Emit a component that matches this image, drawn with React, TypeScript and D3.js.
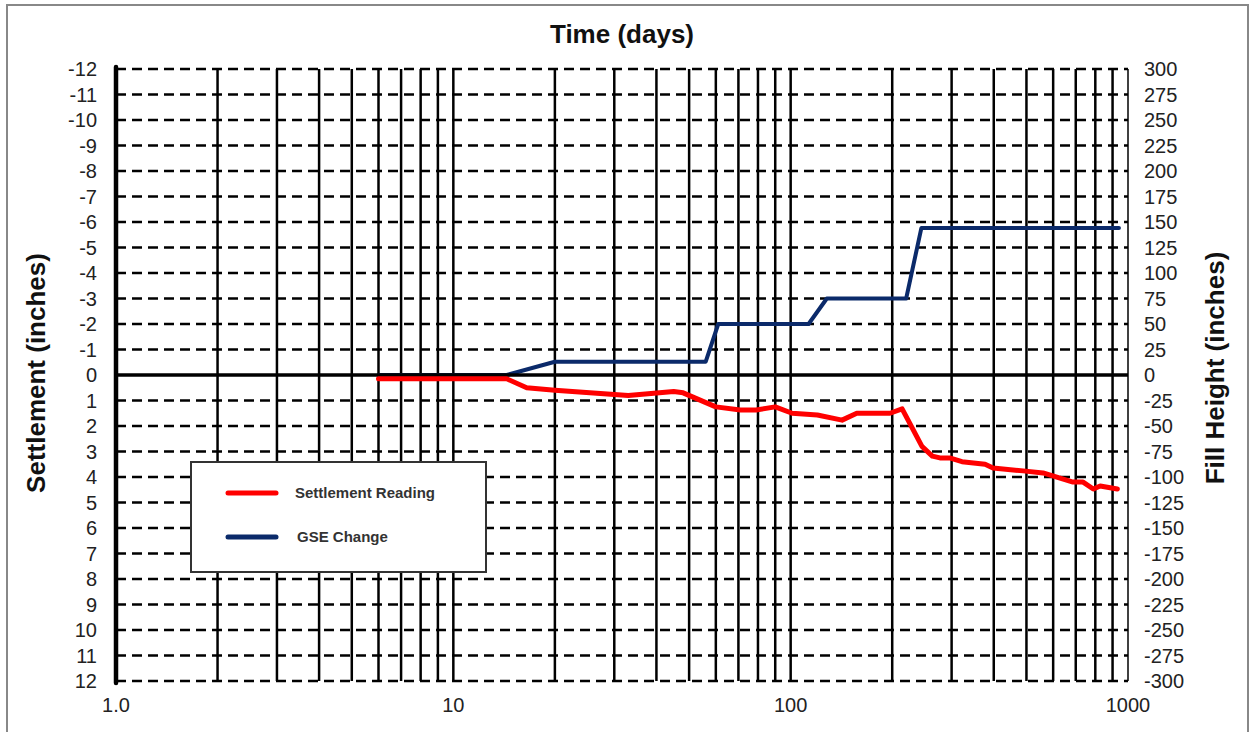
import React, { useEffect, useRef } from 'react';
import * as d3 from 'd3';

// settlement plate readings (inches, positive = down)
const settlementDays = [6, 14.4, 16.5, 20, 33, 45, 48, 60, 71, 79, 90, 101, 120, 142, 157, 197, 214, 245, 263, 277, 296, 322, 377, 398, 489, 560, 687, 736, 789, 827, 930];
const settlementValues = [0.15, 0.15, 0.5, 0.6, 0.8, 0.65, 0.7, 1.25, 1.37, 1.37, 1.25, 1.5, 1.57, 1.77, 1.5, 1.5, 1.33, 2.8, 3.18, 3.25, 3.25, 3.4, 3.5, 3.65, 3.76, 3.84, 4.2, 4.2, 4.47, 4.35, 4.47];

// ground surface elevation change (fill height, inches)
const gseDays = [6, 14.4, 20, 56, 61, 113, 128, 220, 244, 940];
const gseValues = [0, 0, 13, 13, 50, 50, 75, 75, 144, 144];

const leftTicks = d3.range(-12, 13, 1);
const rightTicks = d3.range(300, -301, -25);
const xLabels = [1, 10, 100, 1000];
const xLabelText = ['1.0', '10', '100', '1000'];
const legendItems = ['Settlement Reading', 'GSE Change'];

const RED = '#ff0000';
const NAVY = '#0b2a6a';

export default function App() {
  const ref = useRef<SVGSVGElement>(null);

  useEffect(() => {
    const width = 1251,
          height = 732;
    const left = 116, right = 1128, top = 69, bottom = 681;

    const svg = d3.select(ref.current);
    svg.selectAll('*').remove();
    svg.attr('width', width).attr('height', height);

    svg.append('rect')
      .attr('width', width).attr('height', height).attr('fill', '#fff');

    // outer border (bottom edge falls off the picture)
    svg.append('rect')
      .attr('x', 7).attr('y', 5)
      .attr('width', 1241).attr('height', 740)
      .attr('fill', 'none')
      .attr('stroke', '#888')
      .attr('stroke-width', 2);

    const x = d3.scaleLog().domain([1, 1000]).range([left, right]);
    const yL = d3.scaleLinear().domain([-12, 12]).range([top, bottom]);
    const yR = d3.scaleLinear().domain([300, -300]).range([top, bottom]);

    // vertical log grid
    const vTicks: number[] = [];
    [1, 10, 100].forEach(base => {
      for (let i = 2; i <= 10; i++) vTicks.push(base * i);
    });
    svg.append('g')
      .selectAll('line')
      .data(vTicks)
      .enter()
      .append('line')
        .attr('x1', d => x(d)).attr('x2', d => x(d))
        .attr('y1', top).attr('y2', bottom)
        .attr('stroke', '#000')
        .attr('stroke-width', d => d === 1000 ? 1.5 : 2.5);

    // horizontal dashed grid
    svg.append('g')
      .selectAll('line')
      .data(leftTicks.filter(d => d !== 0))
      .enter()
      .append('line')
        .attr('x1', left).attr('x2', right)
        .attr('y1', d => yL(d)).attr('y2', d => yL(d))
        .attr('stroke', '#000')
        .attr('stroke-width', 2.5)
        .attr('stroke-dasharray', '10,6');

    const font = '"Liberation Sans", Arial, sans-serif';

    // tick labels
    svg.append('g')
      .selectAll('text')
      .data(leftTicks)
      .enter()
      .append('text')
        .attr('x', 97).attr('y', d => yL(d) + 7)
        .attr('text-anchor', 'end')
        .style('font-family', font).style('font-size', '20px').attr('fill', '#222')
        .text(d => d);

    svg.append('g')
      .selectAll('text')
      .data(rightTicks)
      .enter()
      .append('text')
        .attr('x', 1144).attr('y', d => yR(d) + 7)
        .attr('text-anchor', 'start')
        .style('font-family', font).style('font-size', '20px').attr('fill', '#222')
        .text(d => d);

    svg.append('g')
      .selectAll('text')
      .data(xLabels)
      .enter()
      .append('text')
        .attr('x', d => x(d)).attr('y', 712)
        .attr('text-anchor', 'middle')
        .style('font-family', font).style('font-size', '20px').attr('fill', '#222')
        .text((d, i) => xLabelText[i]);

    // titles
    svg.append('text')
      .attr('x', (left + right) / 2).attr('y', 43)
      .attr('text-anchor', 'middle')
      .style('font-family', font).style('font-size', '26px').style('font-weight', 'bold')
      .attr('fill', '#111')
      .text('Time (days)');
    svg.append('text')
      .attr('transform', 'translate(45,373) rotate(-90)')
      .attr('text-anchor', 'middle')
      .style('font-family', font).style('font-size', '26px').style('font-weight', 'bold')
      .attr('fill', '#111')
      .text('Settlement (inches)');
    svg.append('text')
      .attr('transform', 'translate(1224,368) rotate(-90)')
      .attr('text-anchor', 'middle')
      .style('font-family', font).style('font-size', '26px').style('font-weight', 'bold')
      .attr('fill', '#111')
      .text('Fill Height (inches)');

    // fill height line sits under the zero line
    const gseLine = d3.line<number>()
      .x((d, i) => x(gseDays[i]))
      .y(d => yR(d));
    svg.append('path')
      .attr('d', gseLine(gseValues))
      .attr('fill', 'none')
      .attr('stroke', NAVY)
      .attr('stroke-width', 4)
      .attr('stroke-linejoin', 'round')
      .attr('stroke-linecap', 'round');

    // zero line and left axis
    svg.append('line')
      .attr('x1', left).attr('x2', right)
      .attr('y1', yL(0)).attr('y2', yL(0))
      .attr('stroke', '#000').attr('stroke-width', 3.5);
    svg.append('line')
      .attr('x1', left).attr('x2', left)
      .attr('y1', top - 2).attr('y2', bottom + 2)
      .attr('stroke', '#000').attr('stroke-width', 4.5)
      .attr('stroke-linecap', 'round');

    const settleLine = d3.line<number>()
      .x((d, i) => x(settlementDays[i]))
      .y(d => yL(d));
    svg.append('path')
      .attr('d', settleLine(settlementValues))
      .attr('fill', 'none')
      .attr('stroke', RED)
      .attr('stroke-width', 5)
      .attr('stroke-linejoin', 'round')
      .attr('stroke-linecap', 'round');

    // legend
    const legend = svg.append('g');
    legend.append('rect')
      .attr('x', 191).attr('y', 462)
      .attr('width', 295).attr('height', 110)
      .attr('fill', '#fff')
      .attr('stroke', '#333')
      .attr('stroke-width', 2);
    const colors = [RED, NAVY];
    legendItems.forEach((name, i) => {
      const ly = 493 + i * 44;
      legend.append('line')
        .attr('x1', 228).attr('x2', 276)
        .attr('y1', ly).attr('y2', ly)
        .attr('stroke', colors[i])
        .attr('stroke-width', 5)
        .attr('stroke-linecap', 'round');
      legend.append('text')
        .attr('x', i === 0 ? 295 : 297).attr('y', ly + 5)
        .style('font-family', font).style('font-size', '15px').style('font-weight', 'bold')
        .attr('fill', '#333')
        .text(name);
    });
  }, []);

  return (
    <svg ref={ref} style={{ position: 'absolute', left: 0, top: 0 }}></svg>
  );
}
